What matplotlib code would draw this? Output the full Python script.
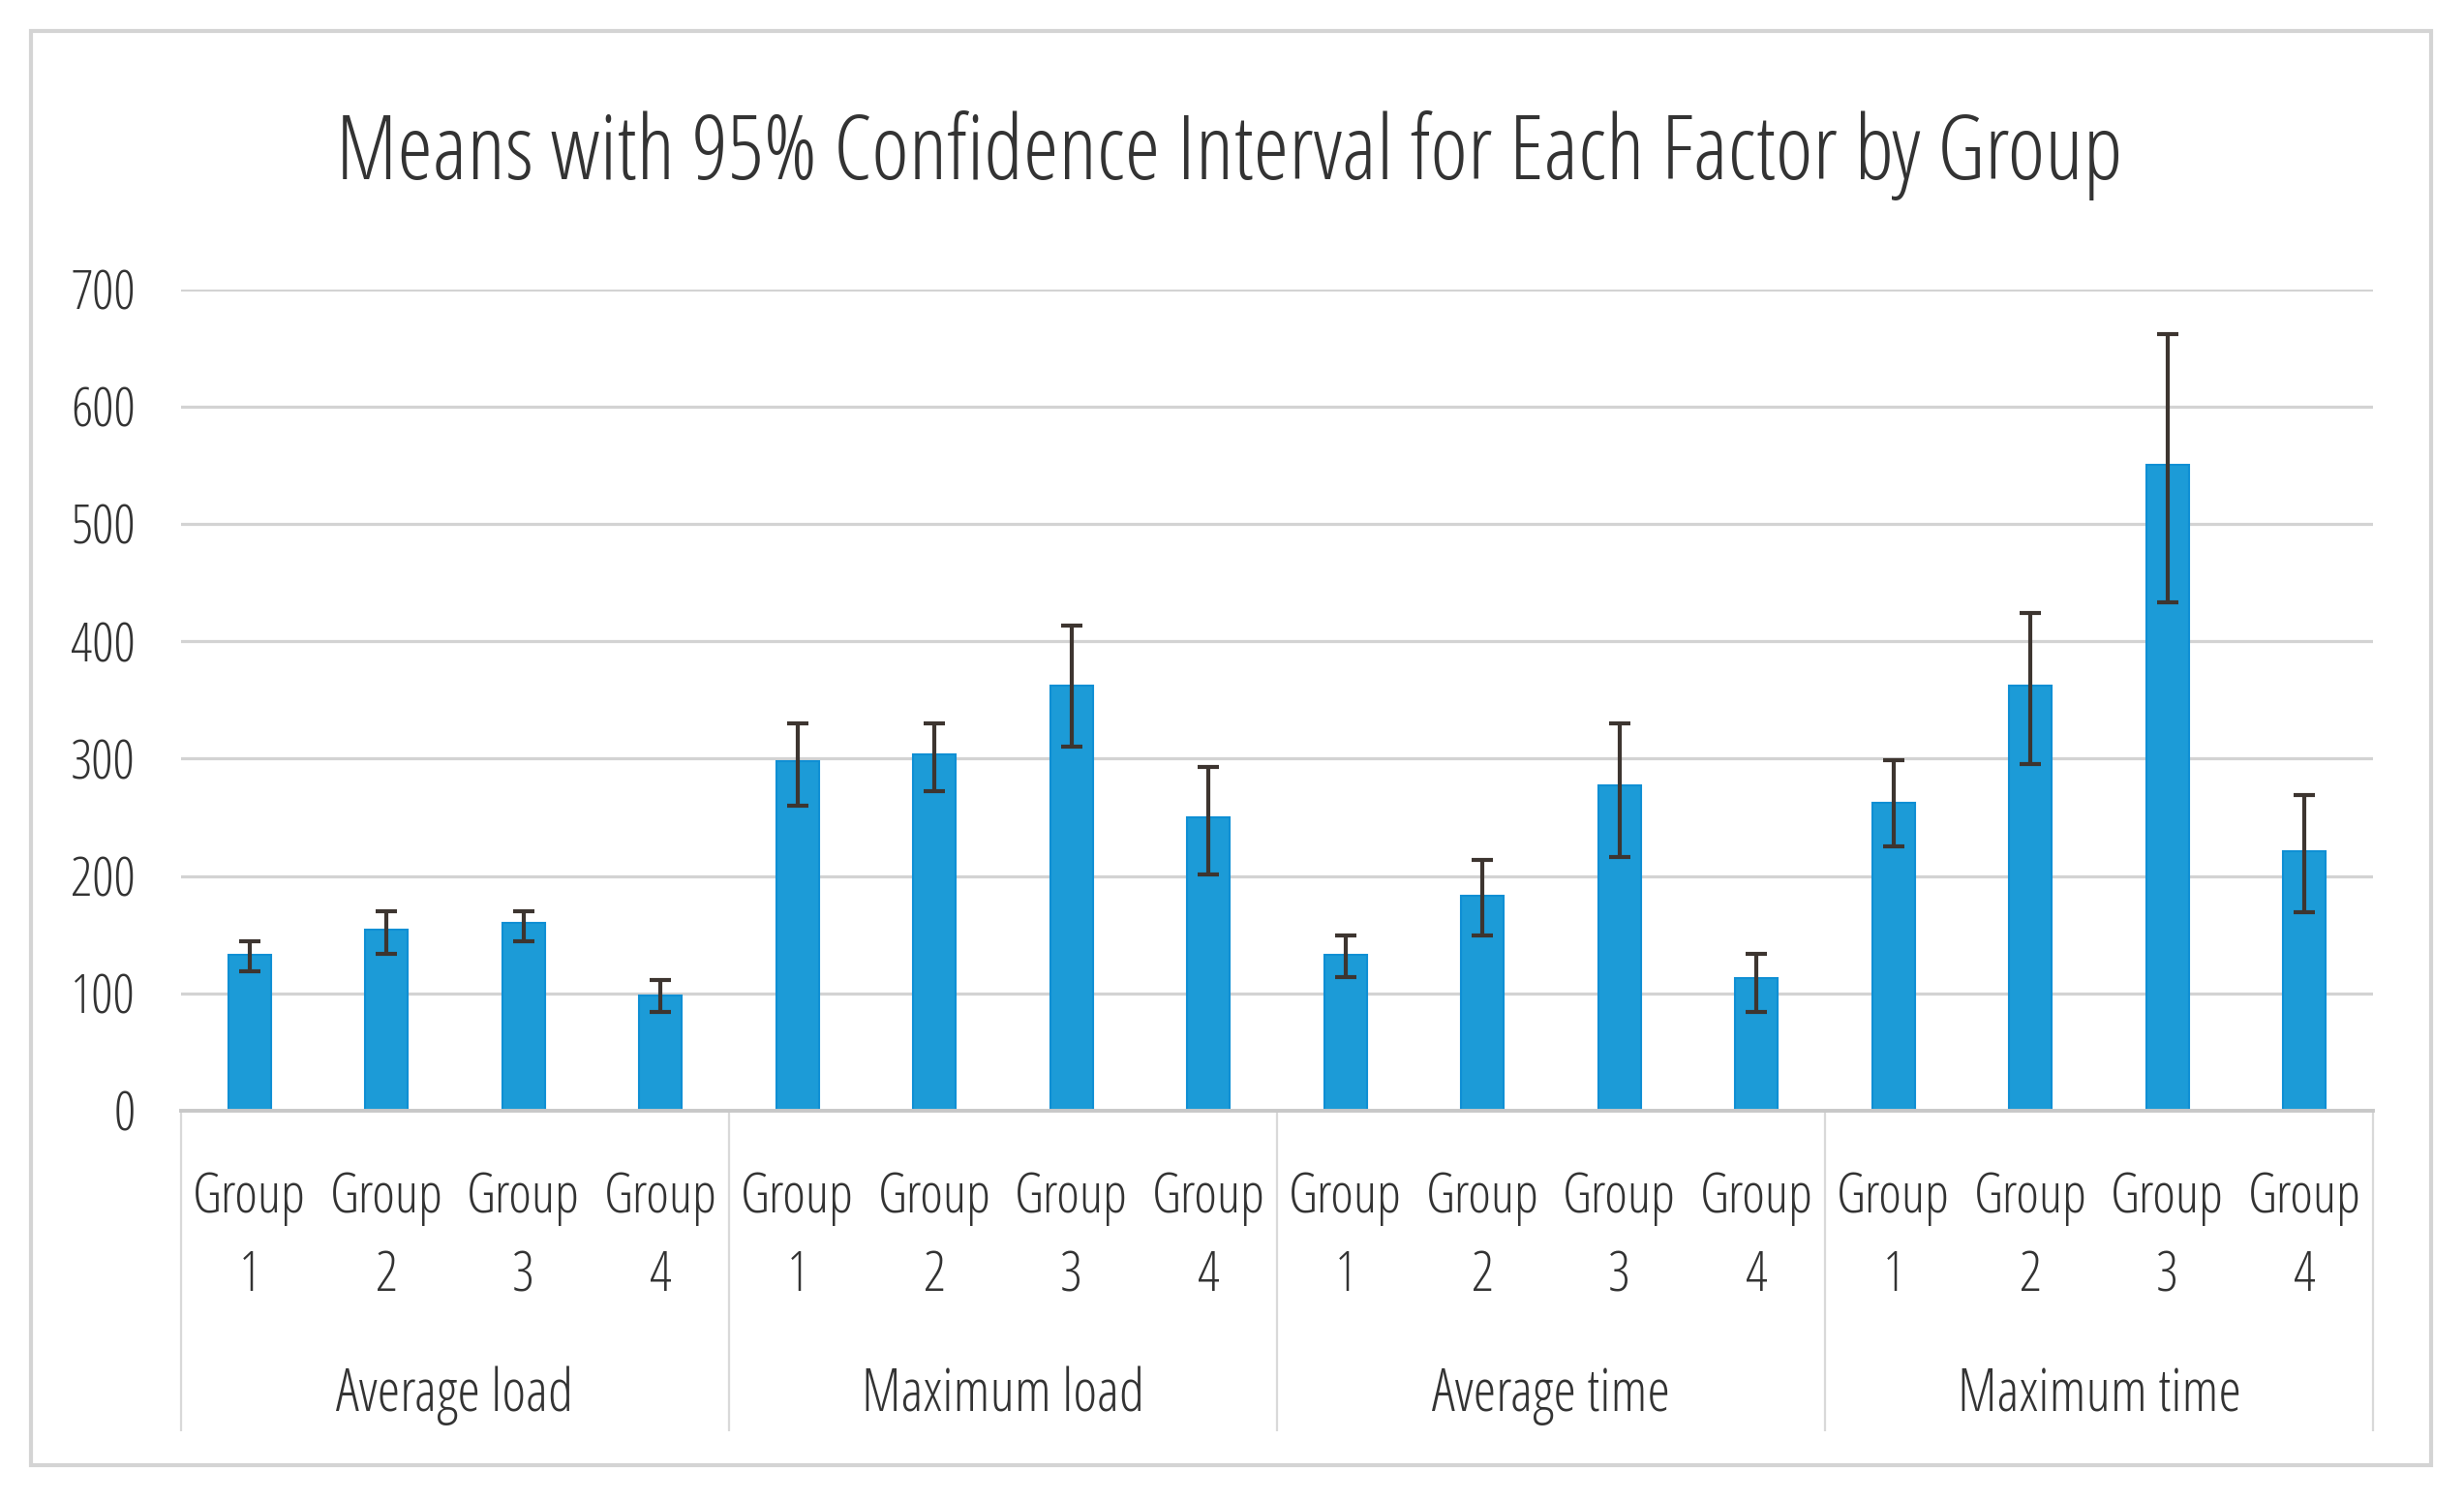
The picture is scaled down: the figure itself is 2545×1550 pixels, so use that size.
import numpy as np
import matplotlib
matplotlib.use('Agg')
import matplotlib.pyplot as plt
from matplotlib.patches import Rectangle
from matplotlib.transforms import blended_transform_factory

# Data
factors = ['Average load', 'Maximum load', 'Average time', 'Maximum time']
groups  = ['1', '2', '3', '4']

avg_load = [133, 154, 160, 98]
max_load = [298, 304, 362, 250]
avg_time = [133, 183, 277, 113]
max_time = [262, 362, 550, 221]

ci_low  = [119, 134, 144, 84,   260, 272, 310, 201,   114, 149, 216, 84,   225, 295, 433, 169]
ci_high = [144, 170, 170, 111,  330, 330, 413, 293,   149, 214, 330, 134,  299, 424, 662, 269]

yticks = [0, 100, 200, 300, 400, 500, 600, 700]

# ── Style ───────────────────────────────────────────
W, H = 2545, 1550
TXT = '#333333'
BAR = '#1c9bd7'
EDGE = '#0f8fd4'
ERR = '#3d3530'
GRID = '#d3d3d3'

plt.rcParams['font.family'] = ['Open Sans', 'DejaVu Sans']
plt.rcParams['font.stretch'] = 'condensed'

means = np.array(avg_load + max_load + avg_time + max_time, dtype=float)
lo = np.array(ci_low, dtype=float)
hi = np.array(ci_high, dtype=float)
x = np.arange(len(means))

fig = plt.figure(figsize=(W / 100, H / 100), dpi=100)
fig.patch.set_facecolor('white')

# axes in pixel layout
left, right, top, bottom = 187, 2451, 298.5, 1147
ax = fig.add_axes([left / W, 1 - bottom / H, (right - left) / W, (bottom - top) / H])

ax.bar(x, means, width=0.31, color=BAR, edgecolor=EDGE, linewidth=1.5, zorder=2)
ax.errorbar(x, means, yerr=[means - lo, hi - means], fmt='none', ecolor=ERR,
            elinewidth=3, capsize=8, capthick=3, zorder=3)

ax.set_xlim(-0.5, len(means) - 0.5)
ax.set_ylim(0, 700)
ax.set_yticks(yticks)
ax.set_yticklabels([str(v) for v in yticks], fontsize=40, color=TXT)
ax.tick_params(axis='y', length=0, pad=34)
ax.set_xticks([])
ax.yaxis.grid(True, color=GRID, linewidth=2.3)
ax.set_axisbelow(True)
for s in ['top', 'left', 'right']:
    ax.spines[s].set_visible(False)
ax.spines['bottom'].set_color('#c8c8c8')
ax.spines['bottom'].set_linewidth(2.8)

# multi-level category axis
tr = blended_transform_factory(ax.transData, fig.transFigure)
for i, xi in enumerate(x):
    ax.text(xi, 1 - 1252 / H, 'Group', transform=tr, ha='center', va='baseline',
            fontsize=41, color=TXT, clip_on=False)
    ax.text(xi, 1 - 1333 / H, groups[i % 4], transform=tr, ha='center', va='baseline',
            fontsize=41, color=TXT, clip_on=False)
for j, name in enumerate(factors):
    ax.text(4 * j + 1.5, 1 - 1457 / H, name, transform=tr, ha='center', va='baseline',
            fontsize=43, color=TXT, clip_on=False)
seps = [-0.5, 3.5, 7.5, 11.5, 15.5]
ax.vlines(seps, 1 - 1478 / H, 1 - bottom / H, transform=tr, colors='#d9d9d9',
          linewidth=1.6, clip_on=False)

fig.text(0.499, 1 - 185 / H, 'Means with 95% Confidence Interval for Each Factor by Group',
         ha='center', va='baseline', fontsize=67, color=TXT)

# chart border
fig.patches.append(Rectangle((32 / W, 1 - 1513 / H), (2511 - 32) / W, (1513 - 32) / H,
                             transform=fig.transFigure, fill=False,
                             edgecolor='#d4d4d4', linewidth=3))

fig.savefig('out.png', dpi=100)
